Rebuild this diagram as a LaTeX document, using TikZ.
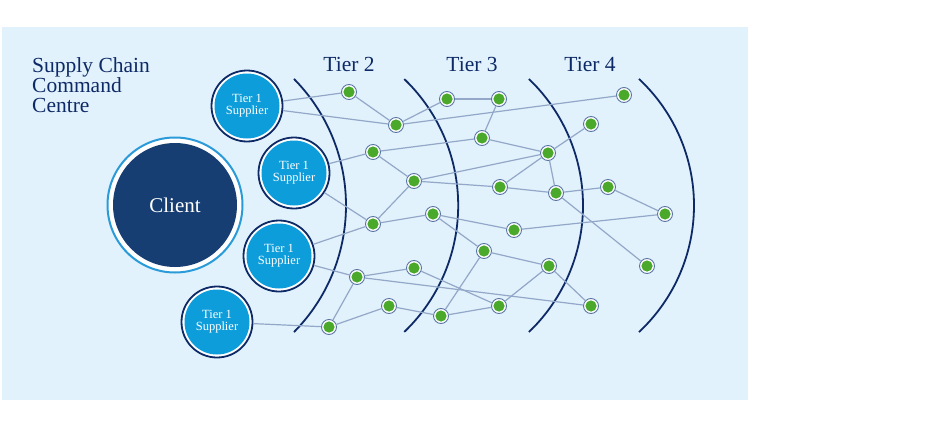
\documentclass[tikz,border=0pt]{standalone}
\usepackage{fontspec}
\setmainfont{Liberation Serif}
\definecolor{bgblue}{HTML}{E1F2FC}
\definecolor{navy}{HTML}{0E2A66}
\definecolor{clientfill}{HTML}{163E73}
\definecolor{clientring}{HTML}{2A9BD8}
\definecolor{supblue}{HTML}{0D9DDB}
\definecolor{dotgreen}{HTML}{4AA82B}
\definecolor{dotring}{HTML}{5A75A5}
\definecolor{edgecol}{HTML}{93A8C8}
\tikzset{
  dot/.style={circle, minimum size=15pt, inner sep=0pt, fill=white, draw=dotring, line width=0.9pt,
    path picture={\fill[dotgreen] (path picture bounding box.center) circle[radius=5.6pt];}},
  supplier/.style={circle, minimum size=71pt, inner sep=0pt, fill=white, draw=navy, line width=1.8pt,
    text=white, align=center, font=\fontsize{12.5}{12}\selectfont,
    path picture={\fill[supblue] (path picture bounding box.center) circle[radius=32.5pt];}},
  client/.style={circle, minimum size=135pt, inner sep=0pt, fill=white, draw=clientring, line width=2pt,
    text=white, font=\fontsize{21}{24}\selectfont,
    path picture={\fill[clientfill] (path picture bounding box.center) circle[radius=62pt];}},
  link/.style={draw=edgecol, line width=1.2pt},
  tierarc/.style={draw=navy, line width=1.8pt},
  tierlabel/.style={text=navy, anchor=base, inner sep=0pt, font=\fontsize{21.5}{24}\selectfont},
}
\begin{document}
\begin{tikzpicture}[x=1pt, y=-1pt]
\useasboundingbox (0,0) rectangle (940,423);
\fill[white] (0,0) rectangle (940,423);
\fill[bgblue] (2,27) rectangle (748,400);

% title
\node[anchor=north west, inner sep=0pt, align=left, text=navy, font=\fontsize{21.5}{20}\selectfont]
  (title) at (32,57) {Supply Chain\\Command\\Centre};

% tier labels
\node[tierlabel] (tier2) at (349,71) {Tier 2};
\node[tierlabel] (tier3) at (472,71) {Tier 3};
\node[tierlabel] (tier4) at (590,71) {Tier 4};

% tier arcs
\draw[tierarc] plot[domain=-44.7:44.7, samples=60, smooth] ({166+180*cos(\x)}, {205.5+180*sin(\x)});
\draw[tierarc] plot[domain=-46.2:46.2, samples=60, smooth] ({283+175.2*cos(\x)}, {205.5+175.2*sin(\x)});
\draw[tierarc] plot[domain=-46.3:46.3, samples=60, smooth] ({408+175*cos(\x)}, {205.5+175*sin(\x)});
\draw[tierarc] plot[domain=-47:47, samples=60, smooth] ({521+173*cos(\x)}, {205.5+173*sin(\x)});

% client and tier 1
\node[client] (client) at (175,205) {Client};
\node[supplier] (t1a) at (247,106) {Tier 1\\Supplier};
\node[supplier] (t1b) at (294,173) {Tier 1\\Supplier};
\node[supplier] (t1c) at (279,256) {Tier 1\\Supplier};
\node[supplier] (t1d) at (217,322) {Tier 1\\Supplier};

% network nodes
\node[dot] (A) at (349,92) {};
\node[dot] (B) at (396,125) {};
\node[dot] (C) at (447,99) {};
\node[dot] (D) at (499,99) {};
\node[dot] (E) at (624,95) {};
\node[dot] (F) at (591,124) {};
\node[dot] (G) at (482,138) {};
\node[dot] (H) at (373,152) {};
\node[dot] (I) at (548,153) {};
\node[dot] (J) at (414,181) {};
\node[dot] (K) at (500,187) {};
\node[dot] (L) at (556,193) {};
\node[dot] (M) at (608,187) {};
\node[dot] (N) at (665,214) {};
\node[dot] (O) at (373,224) {};
\node[dot] (P) at (433,214) {};
\node[dot] (Q) at (514,230) {};
\node[dot] (R) at (484,251) {};
\node[dot] (S) at (357,277) {};
\node[dot] (T) at (414,268) {};
\node[dot] (U) at (549,266) {};
\node[dot] (V) at (647,266) {};
\node[dot] (W) at (389,306) {};
\node[dot] (X) at (441,316) {};
\node[dot] (Y) at (499,306) {};
\node[dot] (Z) at (591,306) {};
\node[dot] (AA) at (329,327) {};

% connectors
\foreach \a/\b in {t1a/A, t1a/B, A/B, B/C, B/E, C/D, D/G, H/G, G/I, t1b/H, t1b/O,
  H/J, J/O, J/I, J/K, K/I, K/L, I/F, I/L, L/M, M/N, L/V, O/P, P/Q, P/R, Q/N,
  t1c/O, t1c/S, S/T, S/Z, S/AA, T/Y, t1d/AA, AA/W, W/X, X/R, X/Y, R/U, Y/U, U/Z}
  \draw[link] (\a) -- (\b);
\end{tikzpicture}
\end{document}
